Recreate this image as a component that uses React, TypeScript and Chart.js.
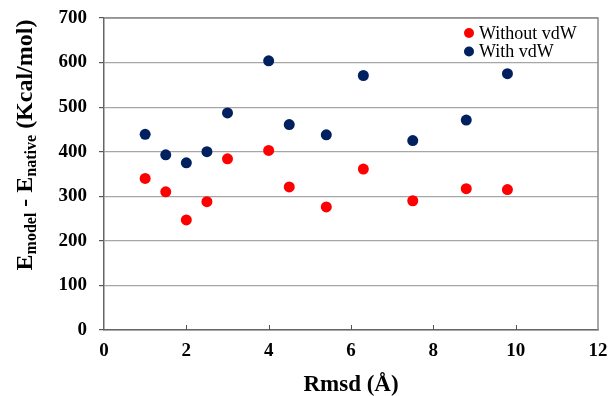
import React, { useEffect, useRef } from "react";
import { Chart, registerables } from "chart.js";

Chart.register(...registerables);

const rmsd = [1.0, 1.5, 2.0, 2.5, 3.0, 4.0, 4.5, 5.4, 6.3, 7.5, 8.8, 9.8];
const withoutVdw = [340, 310, 247, 288, 384, 403, 321, 276, 361, 290, 317, 315];
const withVdw = [439, 393, 375, 400, 487, 604, 461, 438, 571, 425, 471, 575];
const seriesLabels = ["Without vdW", "With vdW"];
const seriesColors = ["#ff0000", "#002060"];
const yTitleParts = [
  { text: "E", sub: false },
  { text: "model", sub: true },
  { text: " - E", sub: false },
  { text: "native", sub: true },
  { text: " (Kcal/mol)", sub: false },
];
const xTitle = "Rmsd (Å)";

const SERIF = "'Liberation Serif', 'Times New Roman', serif";

export default function App() {
  const ref = useRef<HTMLCanvasElement | null>(null);
  useEffect(() => {
    document.body.style.margin = "0";
    const canvas = ref.current;
    if (!canvas) return;

    const decor = {
      id: "decor",
      afterDraw(chart: any) {
        const { ctx, chartArea } = chart;
        const xs = chart.scales.x;
        ctx.save();
        // top & right frame
        ctx.strokeStyle = "#8c8c8c";
        ctx.lineWidth = 1.5;
        ctx.beginPath();
        ctx.moveTo(chartArea.left, chartArea.top);
        ctx.lineTo(chartArea.right, chartArea.top);
        ctx.lineTo(chartArea.right, chartArea.bottom);
        ctx.stroke();
        // inward x ticks
        ctx.strokeStyle = "#555";
        ctx.lineWidth = 1;
        for (let v = 2; v < 12; v += 2) {
          const px = Math.round(xs.getPixelForValue(v)) + 0.5;
          ctx.beginPath();
          ctx.moveTo(px, chartArea.bottom);
          ctx.lineTo(px, chartArea.bottom - 5);
          ctx.stroke();
        }
        // legend
        const lx = chartArea.right - 129;
        const ly = chartArea.top + 15;
        ctx.font = `18px ${SERIF}`;
        ctx.textBaseline = "middle";
        ctx.textAlign = "left";
        seriesLabels.forEach((lab, i) => {
          const y = ly + i * 18.5;
          ctx.fillStyle = seriesColors[i];
          ctx.beginPath();
          ctx.arc(lx, y, 5, 0, Math.PI * 2);
          ctx.fill();
          ctx.fillStyle = "#000";
          ctx.fillText(lab, lx + 10, y + 1);
        });
        // x title
        ctx.font = `bold 23px ${SERIF}`;
        ctx.textAlign = "center";
        ctx.textBaseline = "alphabetic";
        ctx.fillStyle = "#000";
        ctx.fillText(xTitle, (chartArea.left + chartArea.right) / 2, 391);
        // y title with subscripts
        const big = `bold 24px ${SERIF}`;
        const small = `bold 16px ${SERIF}`;
        let total = 0;
        const widths = yTitleParts.map((p) => {
          ctx.font = p.sub ? small : big;
          const w = ctx.measureText(p.text).width;
          total += w;
          return w;
        });
        ctx.translate(32, 145);
        ctx.rotate(-Math.PI / 2);
        ctx.textAlign = "left";
        let cx = -total / 2;
        yTitleParts.forEach((p, i) => {
          ctx.font = p.sub ? small : big;
          ctx.fillText(p.text, cx, p.sub ? 4 : 0);
          cx += widths[i];
        });
        ctx.restore();
      },
    };

    const chart = new Chart(canvas, {
      type: "scatter",
      data: {
        datasets: [
          {
            label: seriesLabels[0],
            data: rmsd.map((x, i) => ({ x, y: withoutVdw[i] })),
            backgroundColor: seriesColors[0],
            borderColor: seriesColors[0],
            borderWidth: 0,
            pointRadius: 5.5,
          },
          {
            label: seriesLabels[1],
            data: rmsd.map((x, i) => ({ x, y: withVdw[i] })),
            backgroundColor: seriesColors[1],
            borderColor: seriesColors[1],
            borderWidth: 0,
            pointRadius: 5.5,
          },
        ],
      },
      options: {
        responsive: false,
        animation: false,
        layout: { padding: { top: 18, right: 11, left: 0, bottom: 0 } },
        plugins: {
          legend: { display: false },
          tooltip: { enabled: false },
        },
        scales: {
          x: {
            type: "linear",
            min: 0,
            max: 12,
            ticks: {
              stepSize: 2,
              padding: 10,
              color: "#000",
              font: { family: SERIF, size: 19, weight: "bold" },
            },
            grid: { drawOnChartArea: false, drawTicks: false },
            border: { color: "#666", width: 1.5 },
            afterFit: (s: any) => {
              s.height = 66;
              s.paddingLeft = 0;
              s.paddingRight = 0;
            },
          },
          y: {
            type: "linear",
            min: 0,
            max: 700,
            ticks: {
              stepSize: 100,
              padding: 12,
              color: "#000",
              font: { family: SERIF, size: 19, weight: "bold" },
            },
            grid: { color: "#a6a6a6", lineWidth: 1.2, tickColor: "#555", tickLength: 5 },
            border: { color: "#666", width: 1.5 },
            afterFit: (s: any) => {
              s.width = 104;
              s.paddingTop = 0;
              s.paddingBottom = 0;
            },
          },
        },
      },
      plugins: [decor],
    });
    return () => chart.destroy();
  }, []);
  return <canvas ref={ref} width={609} height={396} style={{ display: "block" }} />;
}
